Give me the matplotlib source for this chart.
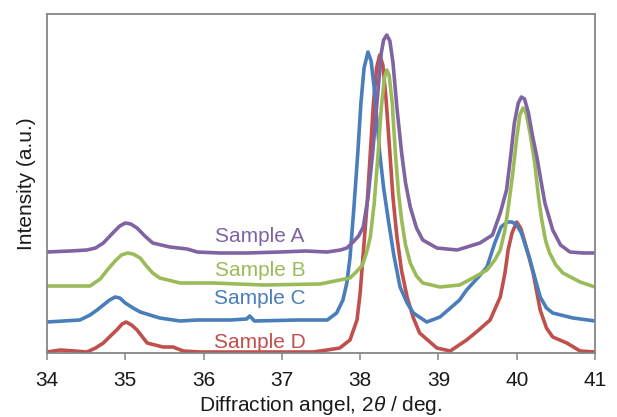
import matplotlib
matplotlib.use('Agg')
from matplotlib import pyplot as plt

# 2theta (deg) / intensity (a.u., offsets included)
a_x = [34.00, 34.30, 34.51, 34.62, 34.72, 34.84, 34.93, 35.00, 35.07, 35.15, 35.25,
       35.35, 35.57, 35.79, 35.92, 36.21, 36.55, 36.98, 37.30, 37.58, 37.75, 37.83,
       37.91, 37.98, 38.04, 38.10, 38.16, 38.22, 38.27, 38.30, 38.34, 38.38, 38.42,
       38.47, 38.53, 38.58, 38.64, 38.72, 38.80, 38.98, 39.24, 39.53, 39.69, 39.79,
       39.87, 39.92, 39.97, 40.02, 40.06, 40.10, 40.15, 40.20, 40.26, 40.31, 40.36,
       40.46, 40.56, 40.68, 40.85, 41.00]
a_y = [101, 102, 103, 105, 110, 120, 127, 130, 129, 125, 117,
       110, 106, 104, 101, 100, 100, 101, 102, 101, 103, 105,
       111, 117, 126, 155, 200, 255, 300, 313, 318, 312, 290,
       245, 200, 170, 146, 125, 113, 105, 103, 110, 118, 140,
       163, 195, 230, 250, 256, 254, 240, 218, 195, 172, 150,
       123, 108, 101, 100, 100]

b_x = [34.00, 34.30, 34.55, 34.68, 34.77, 34.87, 34.95, 35.03, 35.10, 35.19, 35.27,
       35.35, 35.44, 35.70, 36.12, 36.76, 37.49, 37.74, 37.87, 37.95, 38.03, 38.08,
       38.13, 38.18, 38.23, 38.27, 38.31, 38.34, 38.37, 38.41, 38.45, 38.49, 38.53,
       38.58, 38.64, 38.72, 38.80, 39.02, 39.27, 39.44, 39.62, 39.72, 39.79, 39.85,
       39.90, 39.95, 40.00, 40.04, 40.08, 40.12, 40.17, 40.23, 40.28, 40.32, 40.37,
       40.42, 40.50, 40.59, 40.81, 41.00]
b_y = [67, 67, 67, 74, 83, 92, 98, 100, 99, 95, 87,
       80, 75, 70, 70, 68, 69, 73, 75, 81, 88, 100,
       116, 150, 200, 245, 275, 283, 278, 250, 200, 160, 133,
       108, 90, 77, 70, 66, 68, 75, 83, 93, 103, 123,
       150, 180, 215, 238, 245, 240, 220, 190, 155, 133, 112,
       100, 88, 80, 71, 66]

c_x = [34.00, 34.42, 34.55, 34.64, 34.72, 34.80, 34.87, 34.93, 35.00, 35.10, 35.19,
       35.44, 35.70, 35.92, 36.34, 36.55, 36.59, 36.65, 37.20, 37.58, 37.70, 37.78,
       37.83, 37.87, 37.92, 37.97, 38.01, 38.05, 38.10, 38.14, 38.18, 38.25, 38.30,
       38.36, 38.43, 38.51, 38.60, 38.68, 38.85, 39.02, 39.27, 39.36, 39.50, 39.62,
       39.72, 39.80, 39.88, 39.94, 40.00, 40.06, 40.17, 40.30, 40.38, 40.46, 40.72,
       41.00]
c_y = [31, 33, 38, 43, 48, 53, 56, 55, 50, 45, 41,
       35, 32, 33, 33, 34, 37, 32, 33, 33, 40, 53,
       70, 95, 145, 200, 250, 285, 301, 292, 265, 200, 165,
       133, 98, 66, 50, 40, 31, 36, 53, 63, 75, 86,
       110, 126, 131, 131, 128, 120, 93, 56, 45, 40, 35,
       32]

d_x = [34.00, 34.17, 34.35, 34.51, 34.62, 34.72, 34.81, 34.89, 34.96, 35.01, 35.08,
       35.15, 35.28, 35.48, 35.61, 35.74, 35.95, 36.50, 37.00, 37.40, 37.58, 37.74,
       37.87, 37.96, 38.00, 38.04, 38.09, 38.13, 38.17, 38.21, 38.25, 38.29, 38.33,
       38.38, 38.42, 38.47, 38.53, 38.60, 38.68, 38.76, 38.98, 39.15, 39.36, 39.50,
       39.66, 39.79, 39.85, 39.89, 39.94, 40.00, 40.05, 40.10, 40.15, 40.21, 40.30,
       40.38, 40.46, 40.64, 40.81, 41.00]
d_y = [1, 3, 2, 1, 5, 10, 17, 23, 29, 31, 28,
       23, 10, 6, 6, 2, 1, 1, 1, 1, 3, 5,
       13, 33, 60, 100, 150, 200, 250, 285, 298, 288, 255,
       200, 155, 116, 82, 56, 35, 20, 5, 2, 13, 22,
       33, 56, 80, 103, 120, 131, 125, 112, 98, 80, 43,
       25, 16, 10, 2, 1]

names = ['Sample A', 'Sample B', 'Sample C', 'Sample D']
colors = ['#8064A2', '#9BBB59', '#4A7EBB', '#C0504D']
label_y = [117, 83, 55, 10]

plt.rcParams['font.family'] = ['Liberation Sans', 'DejaVu Sans']
plt.rcParams['mathtext.fontset'] = 'custom'
plt.rcParams['mathtext.it'] = 'Liberation Sans:italic'
plt.rcParams['mathtext.rm'] = 'Liberation Sans'

fig = plt.figure(figsize=(6.17, 4.17), dpi=100)
ax = fig.add_axes([47 / 617, 64 / 417, 548 / 617, 339 / 417])

series = [(a_x, a_y), (b_x, b_y), (c_x, c_y), (d_x, d_y)]
# bottom curve first so the upper ones sit on top, like the original
for (xs, ys), c in zip(series[::-1], colors[::-1]):
    ax.plot(xs, ys, '-', color=c, lw=2.6, solid_joinstyle='round',
            solid_capstyle='round')

for name, c, ly in zip(names, colors, label_y):
    ax.text(36.72, ly, name, color=c, fontsize=15, ha='center', va='center')

ax.set_xlim(34, 41)
ax.set_ylim(0, 339)
ax.set_xticks(range(34, 42))
ax.set_yticks([])

for s in ax.spines.values():
    s.set_color('#868686')
    s.set_linewidth(1.3)

ax.tick_params(axis='x', direction='out', length=5, width=1.1, color='#868686',
               labelsize=15, labelcolor='#1a1a1a', pad=8)

ax.set_xlabel(r'Diffraction angel, 2$\it{\theta}$ / deg.', fontsize=15,
              color='#1a1a1a', labelpad=3)
ax.set_ylabel('Intensity (a.u.)', fontsize=15, color='#1a1a1a', labelpad=8)

plt.savefig('out.png', dpi=100)
